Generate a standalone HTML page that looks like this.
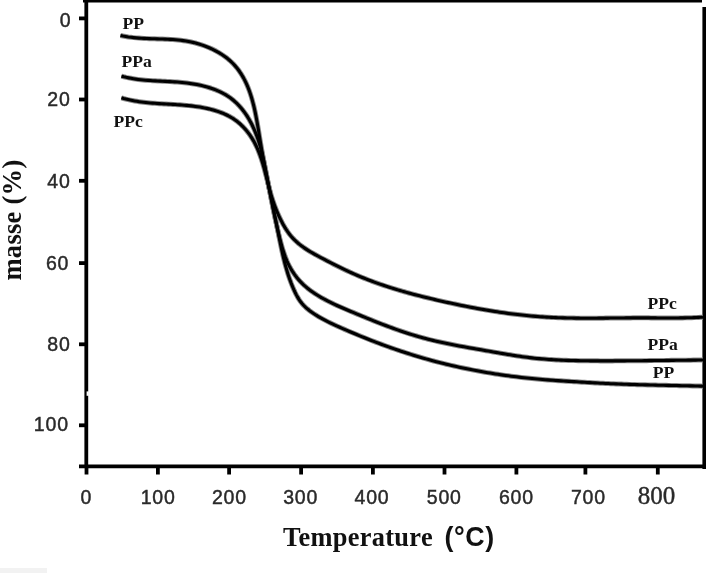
<!DOCTYPE html>
<html><head><meta charset="utf-8"><style>
html,body{margin:0;padding:0;background:#fff;}
svg{display:block;filter:grayscale(1);}
</style></head><body>
<svg width="708" height="573" viewBox="0 0 708 573">
<rect x="0" y="0" width="708" height="573" fill="#fff"/>
<rect x="0" y="568" width="47" height="5" fill="#f2f2f2"/>
<g stroke="#000" stroke-width="3.8" fill="none" stroke-linecap="butt">
<line x1="83" y1="1.3" x2="702" y2="1.3" stroke-width="2.6"/>
<line x1="86.3" y1="0" x2="86.3" y2="468" stroke-width="3.8"/>
<line x1="79" y1="466.4" x2="706" y2="466.4" stroke-width="3.8"/>
<line x1="704.2" y1="7" x2="704.2" y2="469" stroke-width="3.6"/>
<line x1="86.5" y1="466" x2="86.5" y2="474.5"/><line x1="157.9" y1="466" x2="157.9" y2="474.5"/><line x1="229.1" y1="466" x2="229.1" y2="474.5"/><line x1="301.1" y1="466" x2="301.1" y2="474.5"/><line x1="372.9" y1="466" x2="372.9" y2="474.5"/><line x1="444.5" y1="466" x2="444.5" y2="474.5"/><line x1="516.4" y1="466" x2="516.4" y2="474.5"/><line x1="585.4" y1="466" x2="585.4" y2="474.5"/><line x1="657.8" y1="466" x2="657.8" y2="474.5"/><line x1="79" y1="18.4" x2="86.5" y2="18.4"/><line x1="79" y1="99.5" x2="86.5" y2="99.5"/><line x1="79" y1="180.8" x2="86.5" y2="180.8"/><line x1="79" y1="263.1" x2="86.5" y2="263.1"/><line x1="79" y1="344.3" x2="86.5" y2="344.3"/><line x1="79" y1="425.3" x2="86.5" y2="425.3"/>
</g>
<rect x="86.6" y="391.4" width="2.2" height="4.4" fill="#fff"/>
<g stroke="#8a8a8a" stroke-width="5.0" fill="none" stroke-linejoin="round" stroke-linecap="butt">
<path d="M120.46,35.50 L123.09,36.05 L125.72,36.53 L128.34,36.95 L130.97,37.30 L133.59,37.61 L136.22,37.87 L138.84,38.08 L141.46,38.26 L144.08,38.41 L146.71,38.54 L149.33,38.64 L151.95,38.73 L154.56,38.81 L157.18,38.89 L159.80,38.97 L162.42,39.05 L165.04,39.15 L167.65,39.27 L170.27,39.40 L172.88,39.57 L175.50,39.78 L178.11,40.02 L180.73,40.31 L183.34,40.65 L185.96,41.04 L188.57,41.50 L191.18,42.02 L193.79,42.62 L196.41,43.29 L199.01,44.04 L201.60,44.86 L204.17,45.75 L206.71,46.72 L209.22,47.76 L211.70,48.87 L214.13,50.06 L216.52,51.31 L218.85,52.63 L221.13,54.02 L223.34,55.48 L225.47,57.01 L227.53,58.60 L229.51,60.26 L231.40,61.98 L233.20,63.77 L234.91,65.62 L236.54,67.53 L238.09,69.50 L239.55,71.52 L240.94,73.59 L242.25,75.71 L243.50,77.89 L244.67,80.11 L245.79,82.37 L246.84,84.67 L247.83,87.02 L248.77,89.40 L249.65,91.82 L250.48,94.26 L251.27,96.75 L252.01,99.25 L252.71,101.79 L253.38,104.35 L254.01,106.93 L254.60,109.53 L255.17,112.15 L255.71,114.78 L256.23,117.43 L256.72,120.08 L257.20,122.75 L257.67,125.42 L258.12,128.10 L258.57,130.78 L259.00,133.45 L259.44,136.13 L259.88,138.80 L260.32,141.46 L260.76,144.12 L261.22,146.77 L261.67,149.40 L262.14,152.03 L262.61,154.65 L263.08,157.27 L263.56,159.87 L264.05,162.47 L264.54,165.07 L265.03,167.65 L265.53,170.24 L266.03,172.82 L266.54,175.39 L267.05,177.96 L267.56,180.52 L268.07,183.09 L268.59,185.65 L269.11,188.21 L269.63,190.76 L270.15,193.32 L270.68,195.87 L271.20,198.42 L271.73,200.97 L272.25,203.53 L272.78,206.08 L273.31,208.64 L273.83,211.19 L274.36,213.75 L274.88,216.31 L275.41,218.88 L275.93,221.44 L276.45,224.01 L276.97,226.59 L277.49,229.17 L278.01,231.75 L278.52,234.34 L279.04,236.93 L279.56,239.53 L280.08,242.12 L280.61,244.72 L281.16,247.31 L281.71,249.90 L282.28,252.49 L282.87,255.07 L283.48,257.65 L284.10,260.22 L284.75,262.78 L285.43,265.34 L286.13,267.88 L286.87,270.41 L287.63,272.93 L288.43,275.44 L289.27,277.93 L290.15,280.41 L291.06,282.87 L292.03,285.31 L293.03,287.74 L294.08,290.14 L295.19,292.52 L296.36,294.87 L297.61,297.16 L298.96,299.39 L300.42,301.53 L302.02,303.57 L303.77,305.49 L305.64,307.31 L307.61,309.04 L309.67,310.68 L311.79,312.24 L313.97,313.74 L316.18,315.18 L318.43,316.56 L320.71,317.89 L323.02,319.17 L325.35,320.42 L327.71,321.62 L330.09,322.79 L332.48,323.94 L334.88,325.06 L337.30,326.16 L339.72,327.24 L342.14,328.31 L344.57,329.37 L347.00,330.43 L349.43,331.47 L351.86,332.51 L354.29,333.54 L356.72,334.55 L359.16,335.56 L361.60,336.56 L364.04,337.55 L366.48,338.53 L368.93,339.50 L371.38,340.46 L373.83,341.41 L376.28,342.35 L378.74,343.27 L381.20,344.19 L383.66,345.10 L386.12,346.00 L388.59,346.89 L391.06,347.77 L393.53,348.63 L396.01,349.49 L398.49,350.33 L400.97,351.17 L403.46,351.99 L405.95,352.80 L408.45,353.60 L410.94,354.39 L413.44,355.17 L415.95,355.93 L418.46,356.69 L420.97,357.43 L423.49,358.16 L426.01,358.88 L428.54,359.59 L431.07,360.29 L433.60,360.97 L436.14,361.64 L438.68,362.30 L441.23,362.95 L443.78,363.59 L446.34,364.21 L448.89,364.83 L451.45,365.43 L454.02,366.02 L456.58,366.60 L459.16,367.17 L461.73,367.72 L464.31,368.27 L466.89,368.80 L469.47,369.32 L472.05,369.83 L474.64,370.33 L477.23,370.82 L479.83,371.30 L482.42,371.76 L485.02,372.22 L487.62,372.66 L490.22,373.09 L492.83,373.52 L495.43,373.93 L498.04,374.33 L500.65,374.72 L503.26,375.10 L505.87,375.46 L508.49,375.82 L511.10,376.17 L513.72,376.50 L516.34,376.83 L518.96,377.14 L521.58,377.45 L524.20,377.74 L526.82,378.03 L529.44,378.30 L532.06,378.56 L534.69,378.81 L537.31,379.06 L539.94,379.29 L542.56,379.51 L545.19,379.72 L547.81,379.92 L550.44,380.12 L553.06,380.31 L555.69,380.49 L558.31,380.66 L560.94,380.83 L563.57,381.00 L566.19,381.17 L568.82,381.33 L571.45,381.50 L574.07,381.66 L576.70,381.82 L579.33,381.99 L581.96,382.15 L584.59,382.31 L587.21,382.46 L589.84,382.62 L592.47,382.77 L595.10,382.91 L597.73,383.05 L600.36,383.19 L602.99,383.32 L605.62,383.45 L608.25,383.57 L610.88,383.69 L613.51,383.80 L616.14,383.91 L618.77,384.01 L621.40,384.11 L624.03,384.21 L626.67,384.30 L629.30,384.39 L631.93,384.47 L634.56,384.55 L637.19,384.63 L639.82,384.71 L642.46,384.78 L645.09,384.85 L647.72,384.92 L650.35,384.99 L652.98,385.05 L655.62,385.11 L658.25,385.18 L660.88,385.23 L663.51,385.29 L666.15,385.35 L668.78,385.41 L671.41,385.46 L674.04,385.52 L676.68,385.57 L679.31,385.63 L681.94,385.68 L684.57,385.73 L687.21,385.79 L689.84,385.85 L692.47,385.90 L695.10,385.96 L697.73,386.02 L700.37,386.08 L703.00,386.14"/>
<path d="M121.41,76.15 L123.82,76.78 L126.23,77.35 L128.64,77.86 L131.05,78.32 L133.46,78.73 L135.88,79.10 L138.29,79.42 L140.71,79.71 L143.13,79.96 L145.55,80.19 L147.97,80.38 L150.39,80.56 L152.82,80.71 L155.24,80.85 L157.67,80.98 L160.11,81.11 L162.54,81.23 L164.98,81.34 L167.42,81.47 L169.86,81.60 L172.31,81.74 L174.76,81.90 L177.21,82.07 L179.67,82.27 L182.13,82.50 L184.59,82.76 L187.06,83.04 L189.52,83.37 L191.98,83.73 L194.43,84.13 L196.87,84.58 L199.30,85.06 L201.71,85.60 L204.10,86.18 L206.47,86.82 L208.82,87.50 L211.13,88.25 L213.42,89.05 L215.67,89.91 L217.89,90.84 L220.07,91.82 L222.20,92.88 L224.29,94.01 L226.33,95.20 L228.31,96.47 L230.25,97.82 L232.12,99.24 L233.94,100.75 L235.70,102.32 L237.40,103.97 L239.05,105.68 L240.64,107.46 L242.17,109.30 L243.65,111.20 L245.08,113.15 L246.45,115.15 L247.76,117.20 L249.03,119.29 L250.24,121.43 L251.39,123.60 L252.50,125.81 L253.56,128.05 L254.56,130.31 L255.52,132.60 L256.42,134.91 L257.28,137.24 L258.09,139.58 L258.86,141.94 L259.58,144.31 L260.27,146.69 L260.93,149.09 L261.55,151.49 L262.14,153.89 L262.71,156.31 L263.26,158.73 L263.78,161.15 L264.29,163.57 L264.79,165.99 L265.28,168.41 L265.76,170.83 L266.23,173.24 L266.70,175.65 L267.17,178.06 L267.63,180.46 L268.10,182.86 L268.56,185.26 L269.02,187.66 L269.48,190.05 L269.94,192.44 L270.40,194.83 L270.86,197.22 L271.33,199.61 L271.80,202.00 L272.27,204.38 L272.75,206.77 L273.23,209.15 L273.72,211.53 L274.21,213.92 L274.71,216.30 L275.22,218.68 L275.74,221.07 L276.26,223.45 L276.80,225.84 L277.34,228.23 L277.90,230.62 L278.47,233.01 L279.05,235.40 L279.64,237.79 L280.25,240.19 L280.87,242.59 L281.52,244.98 L282.19,247.36 L282.90,249.73 L283.64,252.08 L284.43,254.42 L285.26,256.73 L286.15,259.01 L287.09,261.27 L288.10,263.49 L289.17,265.67 L290.31,267.81 L291.52,269.91 L292.80,271.96 L294.14,273.96 L295.55,275.90 L297.03,277.80 L298.58,279.63 L300.18,281.41 L301.86,283.12 L303.58,284.78 L305.37,286.39 L307.21,287.94 L309.10,289.45 L311.04,290.90 L313.02,292.32 L315.04,293.68 L317.11,295.01 L319.21,296.30 L321.34,297.55 L323.51,298.77 L325.70,299.95 L327.92,301.11 L330.15,302.23 L332.41,303.33 L334.69,304.41 L336.97,305.47 L339.27,306.50 L341.58,307.52 L343.89,308.52 L346.20,309.51 L348.52,310.49 L350.83,311.47 L353.13,312.43 L355.42,313.39 L357.71,314.34 L359.99,315.29 L362.27,316.23 L364.54,317.16 L366.80,318.09 L369.06,319.01 L371.32,319.92 L373.57,320.83 L375.82,321.72 L378.07,322.61 L380.32,323.49 L382.56,324.35 L384.81,325.21 L387.05,326.06 L389.30,326.90 L391.55,327.72 L393.80,328.54 L396.05,329.34 L398.30,330.14 L400.56,330.92 L402.82,331.68 L405.08,332.44 L407.35,333.18 L409.63,333.91 L411.91,334.62 L414.20,335.32 L416.50,336.01 L418.80,336.68 L421.11,337.33 L423.43,337.97 L425.76,338.60 L428.10,339.21 L430.45,339.80 L432.81,340.38 L435.18,340.94 L437.55,341.49 L439.94,342.02 L442.33,342.55 L444.72,343.06 L447.13,343.56 L449.54,344.06 L451.95,344.54 L454.37,345.01 L456.79,345.48 L459.22,345.93 L461.65,346.38 L464.08,346.83 L466.52,347.27 L468.95,347.70 L471.39,348.13 L473.83,348.56 L476.27,348.98 L478.70,349.40 L481.14,349.83 L483.58,350.25 L486.01,350.67 L488.44,351.09 L490.87,351.51 L493.29,351.93 L495.72,352.35 L498.14,352.78 L500.55,353.20 L502.97,353.62 L505.39,354.03 L507.80,354.44 L510.21,354.83 L512.62,355.23 L515.04,355.61 L517.45,355.98 L519.86,356.34 L522.28,356.68 L524.69,357.02 L527.11,357.33 L529.53,357.63 L531.95,357.91 L534.38,358.18 L536.80,358.42 L539.23,358.66 L541.66,358.87 L544.09,359.08 L546.52,359.27 L548.96,359.44 L551.39,359.60 L553.83,359.75 L556.27,359.89 L558.71,360.02 L561.15,360.13 L563.59,360.23 L566.03,360.33 L568.48,360.41 L570.92,360.49 L573.37,360.56 L575.81,360.61 L578.26,360.67 L580.71,360.71 L583.15,360.75 L585.60,360.78 L588.05,360.81 L590.50,360.83 L592.94,360.85 L595.39,360.86 L597.84,360.87 L600.29,360.88 L602.73,360.88 L605.18,360.88 L607.63,360.88 L610.07,360.88 L612.52,360.88 L614.97,360.87 L617.41,360.86 L619.86,360.85 L622.30,360.84 L624.75,360.83 L627.20,360.81 L629.64,360.79 L632.09,360.78 L634.53,360.76 L636.98,360.74 L639.42,360.71 L641.86,360.69 L644.31,360.67 L646.75,360.64 L649.20,360.62 L651.64,360.59 L654.09,360.56 L656.53,360.53 L658.98,360.51 L661.42,360.48 L663.87,360.45 L666.31,360.42 L668.76,360.39 L671.20,360.36 L673.65,360.33 L676.09,360.30 L678.54,360.27 L680.98,360.24 L683.43,360.21 L685.87,360.19 L688.32,360.16 L690.77,360.13 L693.21,360.11 L695.66,360.08 L698.11,360.05 L700.55,360.03 L703.00,360.01"/>
<path d="M121.41,97.85 L123.61,98.48 L125.82,99.06 L128.03,99.59 L130.25,100.08 L132.47,100.53 L134.69,100.94 L136.92,101.32 L139.16,101.66 L141.40,101.97 L143.64,102.26 L145.89,102.51 L148.14,102.75 L150.39,102.96 L152.64,103.15 L154.90,103.32 L157.16,103.49 L159.41,103.64 L161.68,103.78 L163.94,103.91 L166.20,104.04 L168.46,104.17 L170.73,104.29 L172.99,104.42 L175.25,104.56 L177.51,104.70 L179.77,104.86 L182.03,105.02 L184.29,105.20 L186.54,105.40 L188.80,105.62 L191.05,105.86 L193.30,106.12 L195.54,106.42 L197.78,106.74 L200.02,107.09 L202.25,107.48 L204.48,107.91 L206.71,108.37 L208.93,108.87 L211.14,109.42 L213.35,110.02 L215.54,110.67 L217.72,111.37 L219.88,112.12 L222.01,112.93 L224.11,113.80 L226.18,114.74 L228.21,115.74 L230.19,116.81 L232.13,117.96 L234.02,119.17 L235.85,120.47 L237.63,121.83 L239.35,123.27 L241.01,124.77 L242.62,126.33 L244.17,127.95 L245.67,129.63 L247.10,131.35 L248.48,133.13 L249.80,134.94 L251.06,136.80 L252.26,138.69 L253.40,140.61 L254.48,142.57 L255.50,144.55 L256.47,146.55 L257.39,148.58 L258.26,150.64 L259.08,152.71 L259.87,154.80 L260.62,156.91 L261.33,159.04 L262.02,161.18 L262.68,163.34 L263.31,165.51 L263.92,167.69 L264.52,169.88 L265.10,172.08 L265.67,174.28 L266.24,176.49 L266.80,178.70 L267.36,180.92 L267.92,183.13 L268.50,185.35 L269.07,187.56 L269.67,189.77 L270.28,191.97 L270.91,194.17 L271.56,196.35 L272.24,198.53 L272.94,200.70 L273.68,202.86 L274.44,205.00 L275.23,207.13 L276.06,209.25 L276.91,211.36 L277.80,213.45 L278.72,215.52 L279.68,217.58 L280.67,219.63 L281.69,221.65 L282.75,223.66 L283.86,225.64 L285.01,227.59 L286.20,229.50 L287.45,231.37 L288.75,233.20 L290.11,234.98 L291.54,236.70 L293.02,238.35 L294.58,239.95 L296.19,241.48 L297.86,242.96 L299.58,244.38 L301.35,245.76 L303.17,247.09 L305.03,248.37 L306.92,249.62 L308.84,250.83 L310.80,252.02 L312.77,253.17 L314.77,254.30 L316.78,255.41 L318.80,256.51 L320.82,257.59 L322.85,258.66 L324.88,259.72 L326.91,260.78 L328.94,261.83 L330.97,262.88 L332.99,263.91 L335.02,264.94 L337.05,265.95 L339.08,266.96 L341.12,267.95 L343.15,268.94 L345.19,269.91 L347.24,270.87 L349.29,271.82 L351.34,272.76 L353.40,273.68 L355.46,274.58 L357.53,275.47 L359.60,276.35 L361.68,277.21 L363.77,278.06 L365.86,278.89 L367.96,279.71 L370.06,280.52 L372.17,281.31 L374.28,282.09 L376.40,282.85 L378.52,283.61 L380.65,284.35 L382.78,285.08 L384.92,285.79 L387.06,286.50 L389.21,287.19 L391.36,287.87 L393.51,288.55 L395.67,289.21 L397.83,289.86 L399.99,290.50 L402.16,291.13 L404.34,291.75 L406.51,292.37 L408.69,292.97 L410.87,293.57 L413.06,294.15 L415.25,294.73 L417.44,295.30 L419.63,295.87 L421.82,296.42 L424.02,296.97 L426.22,297.52 L428.42,298.05 L430.63,298.58 L432.83,299.11 L435.04,299.62 L437.25,300.14 L439.46,300.65 L441.67,301.15 L443.88,301.65 L446.10,302.14 L448.31,302.63 L450.53,303.11 L452.75,303.59 L454.97,304.06 L457.19,304.53 L459.41,304.99 L461.63,305.44 L463.86,305.89 L466.08,306.33 L468.31,306.77 L470.54,307.20 L472.77,307.62 L475.00,308.04 L477.23,308.45 L479.46,308.86 L481.69,309.25 L483.93,309.64 L486.16,310.02 L488.40,310.40 L490.63,310.76 L492.87,311.12 L495.11,311.48 L497.35,311.82 L499.59,312.16 L501.83,312.48 L504.07,312.80 L506.32,313.11 L508.56,313.42 L510.81,313.71 L513.05,314.00 L515.30,314.27 L517.55,314.54 L519.80,314.80 L522.04,315.05 L524.29,315.29 L526.55,315.52 L528.80,315.74 L531.05,315.95 L533.30,316.16 L535.56,316.35 L537.81,316.53 L540.06,316.70 L542.32,316.86 L544.58,317.01 L546.83,317.15 L549.09,317.28 L551.35,317.40 L553.61,317.51 L555.87,317.61 L558.13,317.70 L560.39,317.78 L562.65,317.85 L564.91,317.92 L567.17,317.98 L569.43,318.03 L571.69,318.07 L573.96,318.11 L576.22,318.14 L578.48,318.16 L580.75,318.18 L583.01,318.19 L585.27,318.20 L587.54,318.20 L589.80,318.20 L592.07,318.20 L594.33,318.19 L596.60,318.18 L598.86,318.16 L601.13,318.15 L603.39,318.13 L605.66,318.11 L607.93,318.09 L610.19,318.07 L612.46,318.04 L614.72,318.02 L616.99,318.00 L619.25,317.97 L621.52,317.95 L623.78,317.93 L626.05,317.91 L628.31,317.89 L630.58,317.88 L632.84,317.87 L635.11,317.86 L637.37,317.85 L639.63,317.85 L641.90,317.85 L644.16,317.86 L646.42,317.86 L648.69,317.87 L650.95,317.89 L653.21,317.90 L655.47,317.91 L657.74,317.93 L660.00,317.94 L662.26,317.95 L664.52,317.96 L666.78,317.96 L669.05,317.97 L671.31,317.97 L673.57,317.96 L675.83,317.95 L678.10,317.93 L680.36,317.91 L682.62,317.88 L684.88,317.84 L687.15,317.80 L689.41,317.74 L691.68,317.68 L693.94,317.60 L696.20,317.52 L698.47,317.42 L700.73,317.31 L703.00,317.19"/>
</g>
<g stroke="#000" stroke-width="3.1" fill="none" stroke-linejoin="round" stroke-linecap="butt">
<path d="M120.46,35.50 L123.09,36.05 L125.72,36.53 L128.34,36.95 L130.97,37.30 L133.59,37.61 L136.22,37.87 L138.84,38.08 L141.46,38.26 L144.08,38.41 L146.71,38.54 L149.33,38.64 L151.95,38.73 L154.56,38.81 L157.18,38.89 L159.80,38.97 L162.42,39.05 L165.04,39.15 L167.65,39.27 L170.27,39.40 L172.88,39.57 L175.50,39.78 L178.11,40.02 L180.73,40.31 L183.34,40.65 L185.96,41.04 L188.57,41.50 L191.18,42.02 L193.79,42.62 L196.41,43.29 L199.01,44.04 L201.60,44.86 L204.17,45.75 L206.71,46.72 L209.22,47.76 L211.70,48.87 L214.13,50.06 L216.52,51.31 L218.85,52.63 L221.13,54.02 L223.34,55.48 L225.47,57.01 L227.53,58.60 L229.51,60.26 L231.40,61.98 L233.20,63.77 L234.91,65.62 L236.54,67.53 L238.09,69.50 L239.55,71.52 L240.94,73.59 L242.25,75.71 L243.50,77.89 L244.67,80.11 L245.79,82.37 L246.84,84.67 L247.83,87.02 L248.77,89.40 L249.65,91.82 L250.48,94.26 L251.27,96.75 L252.01,99.25 L252.71,101.79 L253.38,104.35 L254.01,106.93 L254.60,109.53 L255.17,112.15 L255.71,114.78 L256.23,117.43 L256.72,120.08 L257.20,122.75 L257.67,125.42 L258.12,128.10 L258.57,130.78 L259.00,133.45 L259.44,136.13 L259.88,138.80 L260.32,141.46 L260.76,144.12 L261.22,146.77 L261.67,149.40 L262.14,152.03 L262.61,154.65 L263.08,157.27 L263.56,159.87 L264.05,162.47 L264.54,165.07 L265.03,167.65 L265.53,170.24 L266.03,172.82 L266.54,175.39 L267.05,177.96 L267.56,180.52 L268.07,183.09 L268.59,185.65 L269.11,188.21 L269.63,190.76 L270.15,193.32 L270.68,195.87 L271.20,198.42 L271.73,200.97 L272.25,203.53 L272.78,206.08 L273.31,208.64 L273.83,211.19 L274.36,213.75 L274.88,216.31 L275.41,218.88 L275.93,221.44 L276.45,224.01 L276.97,226.59 L277.49,229.17 L278.01,231.75 L278.52,234.34 L279.04,236.93 L279.56,239.53 L280.08,242.12 L280.61,244.72 L281.16,247.31 L281.71,249.90 L282.28,252.49 L282.87,255.07 L283.48,257.65 L284.10,260.22 L284.75,262.78 L285.43,265.34 L286.13,267.88 L286.87,270.41 L287.63,272.93 L288.43,275.44 L289.27,277.93 L290.15,280.41 L291.06,282.87 L292.03,285.31 L293.03,287.74 L294.08,290.14 L295.19,292.52 L296.36,294.87 L297.61,297.16 L298.96,299.39 L300.42,301.53 L302.02,303.57 L303.77,305.49 L305.64,307.31 L307.61,309.04 L309.67,310.68 L311.79,312.24 L313.97,313.74 L316.18,315.18 L318.43,316.56 L320.71,317.89 L323.02,319.17 L325.35,320.42 L327.71,321.62 L330.09,322.79 L332.48,323.94 L334.88,325.06 L337.30,326.16 L339.72,327.24 L342.14,328.31 L344.57,329.37 L347.00,330.43 L349.43,331.47 L351.86,332.51 L354.29,333.54 L356.72,334.55 L359.16,335.56 L361.60,336.56 L364.04,337.55 L366.48,338.53 L368.93,339.50 L371.38,340.46 L373.83,341.41 L376.28,342.35 L378.74,343.27 L381.20,344.19 L383.66,345.10 L386.12,346.00 L388.59,346.89 L391.06,347.77 L393.53,348.63 L396.01,349.49 L398.49,350.33 L400.97,351.17 L403.46,351.99 L405.95,352.80 L408.45,353.60 L410.94,354.39 L413.44,355.17 L415.95,355.93 L418.46,356.69 L420.97,357.43 L423.49,358.16 L426.01,358.88 L428.54,359.59 L431.07,360.29 L433.60,360.97 L436.14,361.64 L438.68,362.30 L441.23,362.95 L443.78,363.59 L446.34,364.21 L448.89,364.83 L451.45,365.43 L454.02,366.02 L456.58,366.60 L459.16,367.17 L461.73,367.72 L464.31,368.27 L466.89,368.80 L469.47,369.32 L472.05,369.83 L474.64,370.33 L477.23,370.82 L479.83,371.30 L482.42,371.76 L485.02,372.22 L487.62,372.66 L490.22,373.09 L492.83,373.52 L495.43,373.93 L498.04,374.33 L500.65,374.72 L503.26,375.10 L505.87,375.46 L508.49,375.82 L511.10,376.17 L513.72,376.50 L516.34,376.83 L518.96,377.14 L521.58,377.45 L524.20,377.74 L526.82,378.03 L529.44,378.30 L532.06,378.56 L534.69,378.81 L537.31,379.06 L539.94,379.29 L542.56,379.51 L545.19,379.72 L547.81,379.92 L550.44,380.12 L553.06,380.31 L555.69,380.49 L558.31,380.66 L560.94,380.83 L563.57,381.00 L566.19,381.17 L568.82,381.33 L571.45,381.50 L574.07,381.66 L576.70,381.82 L579.33,381.99 L581.96,382.15 L584.59,382.31 L587.21,382.46 L589.84,382.62 L592.47,382.77 L595.10,382.91 L597.73,383.05 L600.36,383.19 L602.99,383.32 L605.62,383.45 L608.25,383.57 L610.88,383.69 L613.51,383.80 L616.14,383.91 L618.77,384.01 L621.40,384.11 L624.03,384.21 L626.67,384.30 L629.30,384.39 L631.93,384.47 L634.56,384.55 L637.19,384.63 L639.82,384.71 L642.46,384.78 L645.09,384.85 L647.72,384.92 L650.35,384.99 L652.98,385.05 L655.62,385.11 L658.25,385.18 L660.88,385.23 L663.51,385.29 L666.15,385.35 L668.78,385.41 L671.41,385.46 L674.04,385.52 L676.68,385.57 L679.31,385.63 L681.94,385.68 L684.57,385.73 L687.21,385.79 L689.84,385.85 L692.47,385.90 L695.10,385.96 L697.73,386.02 L700.37,386.08 L703.00,386.14"/>
<path d="M121.41,76.15 L123.82,76.78 L126.23,77.35 L128.64,77.86 L131.05,78.32 L133.46,78.73 L135.88,79.10 L138.29,79.42 L140.71,79.71 L143.13,79.96 L145.55,80.19 L147.97,80.38 L150.39,80.56 L152.82,80.71 L155.24,80.85 L157.67,80.98 L160.11,81.11 L162.54,81.23 L164.98,81.34 L167.42,81.47 L169.86,81.60 L172.31,81.74 L174.76,81.90 L177.21,82.07 L179.67,82.27 L182.13,82.50 L184.59,82.76 L187.06,83.04 L189.52,83.37 L191.98,83.73 L194.43,84.13 L196.87,84.58 L199.30,85.06 L201.71,85.60 L204.10,86.18 L206.47,86.82 L208.82,87.50 L211.13,88.25 L213.42,89.05 L215.67,89.91 L217.89,90.84 L220.07,91.82 L222.20,92.88 L224.29,94.01 L226.33,95.20 L228.31,96.47 L230.25,97.82 L232.12,99.24 L233.94,100.75 L235.70,102.32 L237.40,103.97 L239.05,105.68 L240.64,107.46 L242.17,109.30 L243.65,111.20 L245.08,113.15 L246.45,115.15 L247.76,117.20 L249.03,119.29 L250.24,121.43 L251.39,123.60 L252.50,125.81 L253.56,128.05 L254.56,130.31 L255.52,132.60 L256.42,134.91 L257.28,137.24 L258.09,139.58 L258.86,141.94 L259.58,144.31 L260.27,146.69 L260.93,149.09 L261.55,151.49 L262.14,153.89 L262.71,156.31 L263.26,158.73 L263.78,161.15 L264.29,163.57 L264.79,165.99 L265.28,168.41 L265.76,170.83 L266.23,173.24 L266.70,175.65 L267.17,178.06 L267.63,180.46 L268.10,182.86 L268.56,185.26 L269.02,187.66 L269.48,190.05 L269.94,192.44 L270.40,194.83 L270.86,197.22 L271.33,199.61 L271.80,202.00 L272.27,204.38 L272.75,206.77 L273.23,209.15 L273.72,211.53 L274.21,213.92 L274.71,216.30 L275.22,218.68 L275.74,221.07 L276.26,223.45 L276.80,225.84 L277.34,228.23 L277.90,230.62 L278.47,233.01 L279.05,235.40 L279.64,237.79 L280.25,240.19 L280.87,242.59 L281.52,244.98 L282.19,247.36 L282.90,249.73 L283.64,252.08 L284.43,254.42 L285.26,256.73 L286.15,259.01 L287.09,261.27 L288.10,263.49 L289.17,265.67 L290.31,267.81 L291.52,269.91 L292.80,271.96 L294.14,273.96 L295.55,275.90 L297.03,277.80 L298.58,279.63 L300.18,281.41 L301.86,283.12 L303.58,284.78 L305.37,286.39 L307.21,287.94 L309.10,289.45 L311.04,290.90 L313.02,292.32 L315.04,293.68 L317.11,295.01 L319.21,296.30 L321.34,297.55 L323.51,298.77 L325.70,299.95 L327.92,301.11 L330.15,302.23 L332.41,303.33 L334.69,304.41 L336.97,305.47 L339.27,306.50 L341.58,307.52 L343.89,308.52 L346.20,309.51 L348.52,310.49 L350.83,311.47 L353.13,312.43 L355.42,313.39 L357.71,314.34 L359.99,315.29 L362.27,316.23 L364.54,317.16 L366.80,318.09 L369.06,319.01 L371.32,319.92 L373.57,320.83 L375.82,321.72 L378.07,322.61 L380.32,323.49 L382.56,324.35 L384.81,325.21 L387.05,326.06 L389.30,326.90 L391.55,327.72 L393.80,328.54 L396.05,329.34 L398.30,330.14 L400.56,330.92 L402.82,331.68 L405.08,332.44 L407.35,333.18 L409.63,333.91 L411.91,334.62 L414.20,335.32 L416.50,336.01 L418.80,336.68 L421.11,337.33 L423.43,337.97 L425.76,338.60 L428.10,339.21 L430.45,339.80 L432.81,340.38 L435.18,340.94 L437.55,341.49 L439.94,342.02 L442.33,342.55 L444.72,343.06 L447.13,343.56 L449.54,344.06 L451.95,344.54 L454.37,345.01 L456.79,345.48 L459.22,345.93 L461.65,346.38 L464.08,346.83 L466.52,347.27 L468.95,347.70 L471.39,348.13 L473.83,348.56 L476.27,348.98 L478.70,349.40 L481.14,349.83 L483.58,350.25 L486.01,350.67 L488.44,351.09 L490.87,351.51 L493.29,351.93 L495.72,352.35 L498.14,352.78 L500.55,353.20 L502.97,353.62 L505.39,354.03 L507.80,354.44 L510.21,354.83 L512.62,355.23 L515.04,355.61 L517.45,355.98 L519.86,356.34 L522.28,356.68 L524.69,357.02 L527.11,357.33 L529.53,357.63 L531.95,357.91 L534.38,358.18 L536.80,358.42 L539.23,358.66 L541.66,358.87 L544.09,359.08 L546.52,359.27 L548.96,359.44 L551.39,359.60 L553.83,359.75 L556.27,359.89 L558.71,360.02 L561.15,360.13 L563.59,360.23 L566.03,360.33 L568.48,360.41 L570.92,360.49 L573.37,360.56 L575.81,360.61 L578.26,360.67 L580.71,360.71 L583.15,360.75 L585.60,360.78 L588.05,360.81 L590.50,360.83 L592.94,360.85 L595.39,360.86 L597.84,360.87 L600.29,360.88 L602.73,360.88 L605.18,360.88 L607.63,360.88 L610.07,360.88 L612.52,360.88 L614.97,360.87 L617.41,360.86 L619.86,360.85 L622.30,360.84 L624.75,360.83 L627.20,360.81 L629.64,360.79 L632.09,360.78 L634.53,360.76 L636.98,360.74 L639.42,360.71 L641.86,360.69 L644.31,360.67 L646.75,360.64 L649.20,360.62 L651.64,360.59 L654.09,360.56 L656.53,360.53 L658.98,360.51 L661.42,360.48 L663.87,360.45 L666.31,360.42 L668.76,360.39 L671.20,360.36 L673.65,360.33 L676.09,360.30 L678.54,360.27 L680.98,360.24 L683.43,360.21 L685.87,360.19 L688.32,360.16 L690.77,360.13 L693.21,360.11 L695.66,360.08 L698.11,360.05 L700.55,360.03 L703.00,360.01"/>
<path d="M121.41,97.85 L123.61,98.48 L125.82,99.06 L128.03,99.59 L130.25,100.08 L132.47,100.53 L134.69,100.94 L136.92,101.32 L139.16,101.66 L141.40,101.97 L143.64,102.26 L145.89,102.51 L148.14,102.75 L150.39,102.96 L152.64,103.15 L154.90,103.32 L157.16,103.49 L159.41,103.64 L161.68,103.78 L163.94,103.91 L166.20,104.04 L168.46,104.17 L170.73,104.29 L172.99,104.42 L175.25,104.56 L177.51,104.70 L179.77,104.86 L182.03,105.02 L184.29,105.20 L186.54,105.40 L188.80,105.62 L191.05,105.86 L193.30,106.12 L195.54,106.42 L197.78,106.74 L200.02,107.09 L202.25,107.48 L204.48,107.91 L206.71,108.37 L208.93,108.87 L211.14,109.42 L213.35,110.02 L215.54,110.67 L217.72,111.37 L219.88,112.12 L222.01,112.93 L224.11,113.80 L226.18,114.74 L228.21,115.74 L230.19,116.81 L232.13,117.96 L234.02,119.17 L235.85,120.47 L237.63,121.83 L239.35,123.27 L241.01,124.77 L242.62,126.33 L244.17,127.95 L245.67,129.63 L247.10,131.35 L248.48,133.13 L249.80,134.94 L251.06,136.80 L252.26,138.69 L253.40,140.61 L254.48,142.57 L255.50,144.55 L256.47,146.55 L257.39,148.58 L258.26,150.64 L259.08,152.71 L259.87,154.80 L260.62,156.91 L261.33,159.04 L262.02,161.18 L262.68,163.34 L263.31,165.51 L263.92,167.69 L264.52,169.88 L265.10,172.08 L265.67,174.28 L266.24,176.49 L266.80,178.70 L267.36,180.92 L267.92,183.13 L268.50,185.35 L269.07,187.56 L269.67,189.77 L270.28,191.97 L270.91,194.17 L271.56,196.35 L272.24,198.53 L272.94,200.70 L273.68,202.86 L274.44,205.00 L275.23,207.13 L276.06,209.25 L276.91,211.36 L277.80,213.45 L278.72,215.52 L279.68,217.58 L280.67,219.63 L281.69,221.65 L282.75,223.66 L283.86,225.64 L285.01,227.59 L286.20,229.50 L287.45,231.37 L288.75,233.20 L290.11,234.98 L291.54,236.70 L293.02,238.35 L294.58,239.95 L296.19,241.48 L297.86,242.96 L299.58,244.38 L301.35,245.76 L303.17,247.09 L305.03,248.37 L306.92,249.62 L308.84,250.83 L310.80,252.02 L312.77,253.17 L314.77,254.30 L316.78,255.41 L318.80,256.51 L320.82,257.59 L322.85,258.66 L324.88,259.72 L326.91,260.78 L328.94,261.83 L330.97,262.88 L332.99,263.91 L335.02,264.94 L337.05,265.95 L339.08,266.96 L341.12,267.95 L343.15,268.94 L345.19,269.91 L347.24,270.87 L349.29,271.82 L351.34,272.76 L353.40,273.68 L355.46,274.58 L357.53,275.47 L359.60,276.35 L361.68,277.21 L363.77,278.06 L365.86,278.89 L367.96,279.71 L370.06,280.52 L372.17,281.31 L374.28,282.09 L376.40,282.85 L378.52,283.61 L380.65,284.35 L382.78,285.08 L384.92,285.79 L387.06,286.50 L389.21,287.19 L391.36,287.87 L393.51,288.55 L395.67,289.21 L397.83,289.86 L399.99,290.50 L402.16,291.13 L404.34,291.75 L406.51,292.37 L408.69,292.97 L410.87,293.57 L413.06,294.15 L415.25,294.73 L417.44,295.30 L419.63,295.87 L421.82,296.42 L424.02,296.97 L426.22,297.52 L428.42,298.05 L430.63,298.58 L432.83,299.11 L435.04,299.62 L437.25,300.14 L439.46,300.65 L441.67,301.15 L443.88,301.65 L446.10,302.14 L448.31,302.63 L450.53,303.11 L452.75,303.59 L454.97,304.06 L457.19,304.53 L459.41,304.99 L461.63,305.44 L463.86,305.89 L466.08,306.33 L468.31,306.77 L470.54,307.20 L472.77,307.62 L475.00,308.04 L477.23,308.45 L479.46,308.86 L481.69,309.25 L483.93,309.64 L486.16,310.02 L488.40,310.40 L490.63,310.76 L492.87,311.12 L495.11,311.48 L497.35,311.82 L499.59,312.16 L501.83,312.48 L504.07,312.80 L506.32,313.11 L508.56,313.42 L510.81,313.71 L513.05,314.00 L515.30,314.27 L517.55,314.54 L519.80,314.80 L522.04,315.05 L524.29,315.29 L526.55,315.52 L528.80,315.74 L531.05,315.95 L533.30,316.16 L535.56,316.35 L537.81,316.53 L540.06,316.70 L542.32,316.86 L544.58,317.01 L546.83,317.15 L549.09,317.28 L551.35,317.40 L553.61,317.51 L555.87,317.61 L558.13,317.70 L560.39,317.78 L562.65,317.85 L564.91,317.92 L567.17,317.98 L569.43,318.03 L571.69,318.07 L573.96,318.11 L576.22,318.14 L578.48,318.16 L580.75,318.18 L583.01,318.19 L585.27,318.20 L587.54,318.20 L589.80,318.20 L592.07,318.20 L594.33,318.19 L596.60,318.18 L598.86,318.16 L601.13,318.15 L603.39,318.13 L605.66,318.11 L607.93,318.09 L610.19,318.07 L612.46,318.04 L614.72,318.02 L616.99,318.00 L619.25,317.97 L621.52,317.95 L623.78,317.93 L626.05,317.91 L628.31,317.89 L630.58,317.88 L632.84,317.87 L635.11,317.86 L637.37,317.85 L639.63,317.85 L641.90,317.85 L644.16,317.86 L646.42,317.86 L648.69,317.87 L650.95,317.89 L653.21,317.90 L655.47,317.91 L657.74,317.93 L660.00,317.94 L662.26,317.95 L664.52,317.96 L666.78,317.96 L669.05,317.97 L671.31,317.97 L673.57,317.96 L675.83,317.95 L678.10,317.93 L680.36,317.91 L682.62,317.88 L684.88,317.84 L687.15,317.80 L689.41,317.74 L691.68,317.68 L693.94,317.60 L696.20,317.52 L698.47,317.42 L700.73,317.31 L703.00,317.19"/>
</g>
<g font-family="'Liberation Sans', sans-serif" font-size="19.5" fill="#2a2a2a" stroke="#2a2a2a" stroke-width="0.45" text-anchor="middle" letter-spacing="0.8">
<text x="86.3" y="504">0</text><text x="158.2" y="504">100</text><text x="229.4" y="504">200</text><text x="300.7" y="504">300</text><text x="372.0" y="504">400</text><text x="444.3" y="504">500</text><text x="516.4" y="504">600</text><text x="588.4" y="504">700</text>
</g>
<text x="656.5" y="504" font-family="'Liberation Serif', serif" font-size="25" fill="#2a2a2a" stroke="#2a2a2a" stroke-width="0.4" text-anchor="middle">800</text>
<g font-family="'Liberation Sans', sans-serif" font-size="19.5" fill="#2a2a2a" stroke="#2a2a2a" stroke-width="0.45" text-anchor="end" letter-spacing="0.8">
<text x="71.5" y="27.0">0</text><text x="70.6" y="105.8">20</text><text x="70.6" y="188.0">40</text><text x="69.2" y="270.4">60</text><text x="70.6" y="350.8">80</text><text x="68.8" y="430.5">100</text>
</g>
<g font-family="'Liberation Serif', serif" font-weight="bold" font-size="17.6" fill="#111">
<text x="122.6" y="29.4">PP</text>
<text x="121.6" y="67">PPa</text>
<text x="113.4" y="126.8">PPc</text>
<text x="647.6" y="309">PPc</text>
<text x="647.6" y="349.6">PPa</text>
<text x="652.8" y="378">PP</text>
</g>
<text x="283" y="545.7" font-family="'Liberation Serif', serif" font-weight="bold" font-size="26.4" letter-spacing="0.3" fill="#111">Temperature</text>
<text x="444.5" y="545.7" font-family="'Liberation Sans', sans-serif" font-weight="bold" font-size="26.8" letter-spacing="0.6" fill="#111">(°C)</text>
<text transform="translate(20.5,280.5) rotate(-90)" font-family="'Liberation Serif', serif" font-weight="bold" font-size="26.5" letter-spacing="0.28" fill="#111">masse (%)</text>
</svg>
</body></html>
